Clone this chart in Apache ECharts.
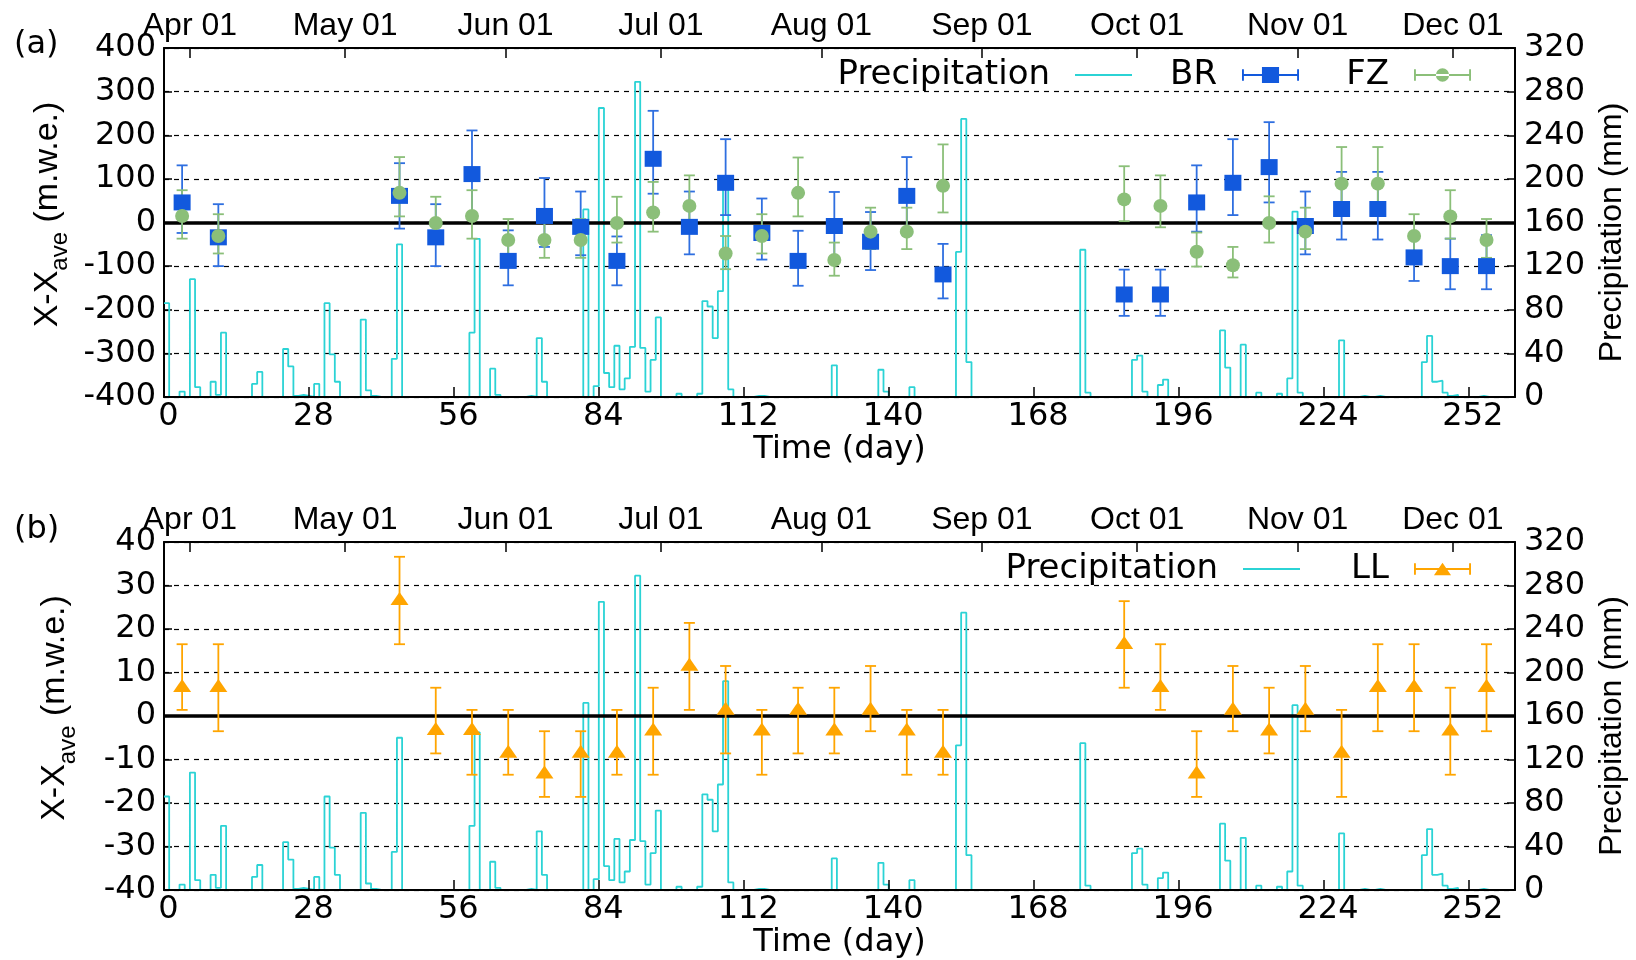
<!DOCTYPE html>
<html>
<head>
<meta charset="utf-8">
<title>Mass balance anomaly and precipitation</title>
<script src="https://cdn.jsdelivr.net/npm/echarts@6.0.0/dist/echarts.min.js"></script>
<style>
  html, body { margin: 0; padding: 0; background: #fff; }
  #chart { width: 1636px; height: 960px; }
</style>
</head>
<body>
<div id="chart"></div>
<script>
// bottom axis ticks (day) and top axis month ticks
var dayTicks = [0, 28, 56, 84, 112, 140, 168, 196, 224, 252];
var monthDays = [5, 35, 66, 96, 127, 158, 188, 219, 249];
var monthLabels = ['Apr 01', 'May 01', 'Jun 01', 'Jul 01', 'Aug 01', 'Sep 01', 'Oct 01', 'Nov 01', 'Dec 01'];

// daily precipitation (mm), day 0 .. 260
var precipitation = [
  86, 0, 0, 5, 0, 108, 9, 0, 0, 14,
  2, 59, 0, 0, 0, 0, 0, 12, 23, 0,
  0, 0, 0, 44, 28, 1, 2, 1, 0, 12,
  0, 86, 39, 14, 0, 0, 0, 0, 71, 6,
  1, 0, 0, 0, 35, 140, 0, 0, 0, 0,
  0, 0, 0, 0, 0, 0, 0, 0, 0, 59,
  145, 0, 0, 26, 2, 0, 0, 0, 0, 0,
  1, 0, 54, 14, 0, 0, 0, 0, 0, 0,
  0, 172, 0, 10, 265, 22, 9, 47, 7, 17,
  46, 289, 45, 5, 34, 73, 0, 0, 0, 3,
  0, 0, 0, 3, 88, 83, 54, 97, 192, 7,
  0, 0, 0, 0, 1, 1, 0, 0, 0, 0,
  0, 0, 0, 0, 0, 0, 0, 0, 0, 29,
  0, 0, 0, 0, 0, 0, 0, 0, 25, 5,
  0, 0, 0, 0, 9, 0, 0, 0, 0, 0,
  0, 0, 0, 133, 255, 32, 0, 0, 0, 0,
  0, 0, 0, 0, 0, 0, 0, 0, 0, 0,
  0, 0, 0, 0, 0, 0, 0, 135, 4, 0,
  0, 0, 0, 0, 0, 0, 0, 34, 38, 5,
  0, 0, 11, 16, 0, 0, 0, 0, 0, 0,
  0, 0, 0, 0, 61, 27, 0, 0, 48, 0,
  0, 4, 0, 0, 0, 3, 0, 17, 170, 4,
  0, 0, 0, 0, 0, 0, 0, 52, 0, 0,
  0, 1, 0, 0, 1, 0, 0, 0, 0, 0,
  0, 0, 0, 32, 56, 14, 15, 4, 1, 2,
  0, 0, 0, 0, 1, 0, 0, 0, 0, 0, 0
];

// weekly sample days
var sampleDays = [3.5, 10.5, 45.5, 52.5, 59.5, 66.5, 73.5, 80.5, 87.5, 94.5,
  101.5, 108.5, 115.5, 122.5, 129.5, 136.5, 143.5, 150.5, 185.5, 192.5,
  199.5, 206.5, 213.5, 220.5, 227.5, 234.5, 241.5, 248.5, 255.5];

// BR (m.w.e.)
var brValue = [46, -34, 61, -34, 111, -88, 15, -10, -88, 146, -10, 91, -24, -88, -8, -44, 61, -119, -165, -165, 46, 91, 127, -8, 31, 31, -80, -100, -100];
var brLow = [-24, -100, -14, -100, 11, -144, -56, -75, -144, 66, -73, 17, -85, -145, -86, -109, -28, -174, -214, -214, -21, 17, 46, -73, -39, -39, -134, -153, -153];
var brHigh = [131, 42, 136, 42, 211, -18, 102, 71, -32, 256, 71, 191, 55, -19, 70, 24, 150, -49, -108, -108, 131, 191, 230, 71, 116, 116, -31, -37, -29];

// FZ (m.w.e.)
var fzValue = [15, -31, 68, -1, 15, -40, -40, -40, -1, 23, 38, -71, -31, 68, -86, -21, -21, 84, 53, 38, -67, -98, -1, -21, 89, 89, -31, 14, -40];
var fzLow = [-37, -71, 14, -46, -37, -81, -81, -81, -46, -21, -11, -107, -71, 14, -122, -61, -61, 23, 3, -11, -101, -126, -46, -61, 30, 30, -71, -37, -81];
var fzHigh = [74, 19, 150, 59, 74, 8, 8, 8, 59, 93, 108, -31, 19, 149, -46, 34, 34, 179, 129, 108, -23, -56, 60, 34, 173, 173, 19, 74, 8];

// LL (m.w.e.)
var llValue = [7, 7, 27, -2.9, -2.9, -8.1, -12.9, -8.1, -8.1, -3, 11.9, 1.8, -3, 1.8, -3, 1.8, -3, -8.1, 16.9, 7, -12.9, 1.8, -3, 1.8, -8.1, 7, 7, -3, 7];
var llLow = [1.4, -3.5, 16.5, -8.6, -13.5, -13.5, -18.6, -18.6, -13.5, -13.5, 1.4, -8.6, -13.5, -8.6, -8.6, -3.5, -13.5, -13.5, 6.5, 1.4, -18.6, -3.5, -8.6, -3.5, -18.6, -3.5, -3.5, -13.5, -3.5];
var llHigh = [16.5, 16.5, 36.6, 6.5, 1.4, 1.4, -3.5, -3.5, 1.4, 6.5, 21.4, 11.5, 1.4, 6.5, 6.5, 11.5, 1.4, 1.4, 26.4, 16.5, -3.5, 11.5, 6.5, 11.5, 1.4, 16.5, 16.5, 6.5, 16.5];

function draw_massbalance() {
  var dom = document.getElementById('chart');
  var myChart = echarts.init(dom, null, {
    renderer: 'canvas',
    useDirtyRect: false
  });

  var FONT = 'DejaVu Sans';
  var FONT2 = 'Liberation Sans';
  var CYAN = '#2bd3d5';
  var BLUE = '#1259dd';
  var GREEN = '#8bbf79';
  var ORANGE = '#ffa500';

  var txt = { fontSize: 32, fontFamily: FONT, color: '#000' };
  var frame = { show: true, onZero: false, lineStyle: { color: '#000', width: 2 } };

  // legend samples: text left of a line / errorbar with marker
  var lineIcon = 'path://M0,0h60v2.2h-60z';
  var barCaps = 'M0,9h60v2h-60z M0,4h2v12h-2z M58,4h2v12h-2z ';
  var brIcon = 'path://' + barCaps + 'M21,1.5h18v17h-18z';
  var fzIcon = 'path://' + barCaps + 'M23,10a7,7 0 1,0 14,0a7,7 0 1,0 -14,0z';
  var llIcon = 'path://' + barCaps + 'M21,16.5L30,3.5L39,16.5z';

  function pairs(xs, ys) {
    return xs.map(function (x, i) { return [x, ys[i]]; });
  }

  function errorData(xs, lo, hi) {
    return xs.map(function (x, i) { return [x, lo[i], hi[i]]; });
  }

  function errorBars(name, xIdx, yIdx, color, data) {
    return {
      name: name,
      type: 'custom',
      xAxisIndex: xIdx,
      yAxisIndex: yIdx,
      z: 4,
      silent: true,
      encode: { x: 0, y: [1, 2] },
      data: data,
      renderItem: function (params, api) {
        var x = api.value(0);
        var lo = api.coord([x, api.value(1)]);
        var hi = api.coord([x, api.value(2)]);
        var st = { stroke: color, lineWidth: 1.8 };
        return {
          type: 'group',
          children: [
            { type: 'line', shape: { x1: lo[0], y1: lo[1], x2: hi[0], y2: hi[1] }, style: st },
            { type: 'line', shape: { x1: lo[0] - 5.5, y1: lo[1], x2: lo[0] + 5.5, y2: lo[1] }, style: st },
            { type: 'line', shape: { x1: hi[0] - 5.5, y1: hi[1], x2: hi[0] + 5.5, y2: hi[1] }, style: st }
          ]
        };
      }
    };
  }

  function bottomAxis(g) {
    return {
      type: 'value', gridIndex: g, position: 'bottom', min: 0, max: 261, z: 10,
      name: 'Time (day)', nameLocation: 'middle', nameGap: 35, nameTextStyle: txt,
      axisLine: frame,
      axisTick: { show: true, inside: true, length: 10, customValues: dayTicks, lineStyle: { color: '#000', width: 1.5 } },
      // gnuplot puts these labels a few pixels right of their ticks
      axisLabel: Object.assign({ customValues: dayTicks, margin: 4, padding: [0, 0, 0, 9] }, txt),
      splitLine: { show: false }
    };
  }

  function topAxis(g) {
    return {
      type: 'value', gridIndex: g, position: 'top', min: 0, max: 261, z: 10,
      axisLine: frame,
      axisTick: { show: true, inside: true, length: 10, customValues: monthDays, lineStyle: { color: '#000', width: 1.5 } },
      axisLabel: {
        customValues: monthDays, margin: 6,
        fontSize: 32, fontFamily: FONT2, color: '#000',
        formatter: function (v) {
          var i = monthDays.indexOf(v);
          return i >= 0 ? monthLabels[i] : '';
        }
      },
      splitLine: { show: false }
    };
  }

  function leftAxis(g, lim, step) {
    return {
      type: 'value', gridIndex: g, position: 'left', min: -lim, max: lim, interval: step,
      name: '{a|X-X}{s|ave}{a| (m.w.e.)}', nameLocation: 'middle', nameRotate: 90, nameGap: 84,
      nameTextStyle: {
        fontSize: 34, fontFamily: FONT2, color: '#000',
        padding: [0, 0, 0, 16],
        rich: {
          a: { fontSize: 34, fontFamily: FONT2, color: '#000', lineHeight: 42, verticalAlign: 'top' },
          s: { fontSize: 24, fontFamily: FONT2, color: '#000', lineHeight: 24, verticalAlign: 'bottom' }
        }
      },
      axisLine: frame,
      axisTick: { show: true, inside: true, length: 8, lineStyle: { color: '#000', width: 1.5 } },
      axisLabel: Object.assign({ margin: 8 }, txt),
      splitLine: { show: true, lineStyle: { color: '#000', width: 1.2, type: [5, 5] } }
    };
  }

  function rightAxis(g) {
    return {
      type: 'value', gridIndex: g, position: 'right', min: 0, max: 320, interval: 40, z: 10,
      name: 'Precipitation (mm)', nameLocation: 'middle', nameRotate: 90, nameGap: 70,
      nameTextStyle: { fontSize: 32, fontFamily: FONT2, color: '#000', padding: [0, 20, 0, 0] },
      axisLine: frame,
      axisTick: { show: true, inside: true, length: 8, lineStyle: { color: '#000', width: 1.5 } },
      axisLabel: Object.assign({ margin: 9 }, txt),
      splitLine: { show: false }
    };
  }

  function legendItem(name, icon, right, top) {
    return {
      data: [{ name: name, icon: icon }],
      right: right, top: top, padding: 0, itemGap: 0,
      align: 'right', itemWidth: 57, itemHeight: 20,
      selectedMode: false,
      textStyle: { fontSize: 34, fontFamily: FONT, color: '#000', padding: [0, 20, 0, 0] }
    };
  }

  function precipSeries(xIdx, yIdx) {
    return {
      name: 'Precipitation',
      type: 'line',
      xAxisIndex: xIdx,
      yAxisIndex: yIdx,
      step: 'end',
      showSymbol: false,
      z: 2,
      itemStyle: { color: CYAN },
      lineStyle: { color: CYAN, width: 1.8 },
      data: precipitation.map(function (v, d) { return [d, v]; })
    };
  }

  var zeroLine = {
    silent: true, symbol: ['none', 'none'], z: 3,
    label: { show: false },
    lineStyle: { color: '#000', width: 3.5, type: 'solid' },
    data: [{ yAxis: 0 }]
  };

  var option = {
    backgroundColor: '#fff',
    animation: false,
    title: [
      { text: '(a)', left: 14, top: 29, padding: 0, textStyle: { fontSize: 32, fontFamily: FONT, fontWeight: 'normal', color: '#000' } },
      { text: '(b)', left: 14, top: 514, padding: 0, textStyle: { fontSize: 32, fontFamily: FONT, fontWeight: 'normal', color: '#000' } }
    ],
    legend: [
      legendItem('Precipitation', lineIcon, 504, 58),
      legendItem('BR', brIcon, 337, 58),
      legendItem('FZ', fzIcon, 165, 58),
      legendItem('Precipitation', lineIcon, 336, 552),
      legendItem('LL', llIcon, 165, 552)
    ],
    grid: [
      { left: 164, right: 121, top: 48, height: 349, containLabel: false, outerBoundsMode: 'none' },
      { left: 164, right: 121, top: 542, height: 348, containLabel: false, outerBoundsMode: 'none' }
    ],
    xAxis: [bottomAxis(0), topAxis(0), bottomAxis(1), topAxis(1)],
    yAxis: [leftAxis(0, 400, 100), rightAxis(0), leftAxis(1, 40, 10), rightAxis(1)],
    series: [
      precipSeries(0, 1),
      Object.assign(errorBars('BR err', 0, 0, '#2f6fe0', errorData(sampleDays, brLow, brHigh)), { markLine: zeroLine }),
      errorBars('FZ err', 0, 0, GREEN, errorData(sampleDays, fzLow, fzHigh)),
      {
        name: 'BR', type: 'scatter', xAxisIndex: 0, yAxisIndex: 0, z: 5,
        symbol: 'rect', symbolSize: [17, 16],
        itemStyle: { color: BLUE, opacity: 1 },
        data: pairs(sampleDays, brValue)
      },
      {
        name: 'FZ', type: 'scatter', xAxisIndex: 0, yAxisIndex: 0, z: 5,
        symbol: 'circle', symbolSize: 14,
        itemStyle: { color: GREEN, opacity: 1 },
        data: pairs(sampleDays, fzValue)
      },
      precipSeries(2, 3),
      Object.assign(errorBars('LL err', 2, 2, ORANGE, errorData(sampleDays, llLow, llHigh)), { markLine: zeroLine }),
      {
        name: 'LL', type: 'scatter', xAxisIndex: 2, yAxisIndex: 2, z: 5,
        symbol: 'triangle', symbolSize: [18, 13],
        itemStyle: { color: ORANGE, opacity: 1 },
        data: pairs(sampleDays, llValue)
      }
    ]
  };

  if (option && typeof option === 'object') {
    myChart.setOption(option);
  }

  window.addEventListener('resize', myChart.resize);
}

draw_massbalance();
</script>
</body>
</html>
